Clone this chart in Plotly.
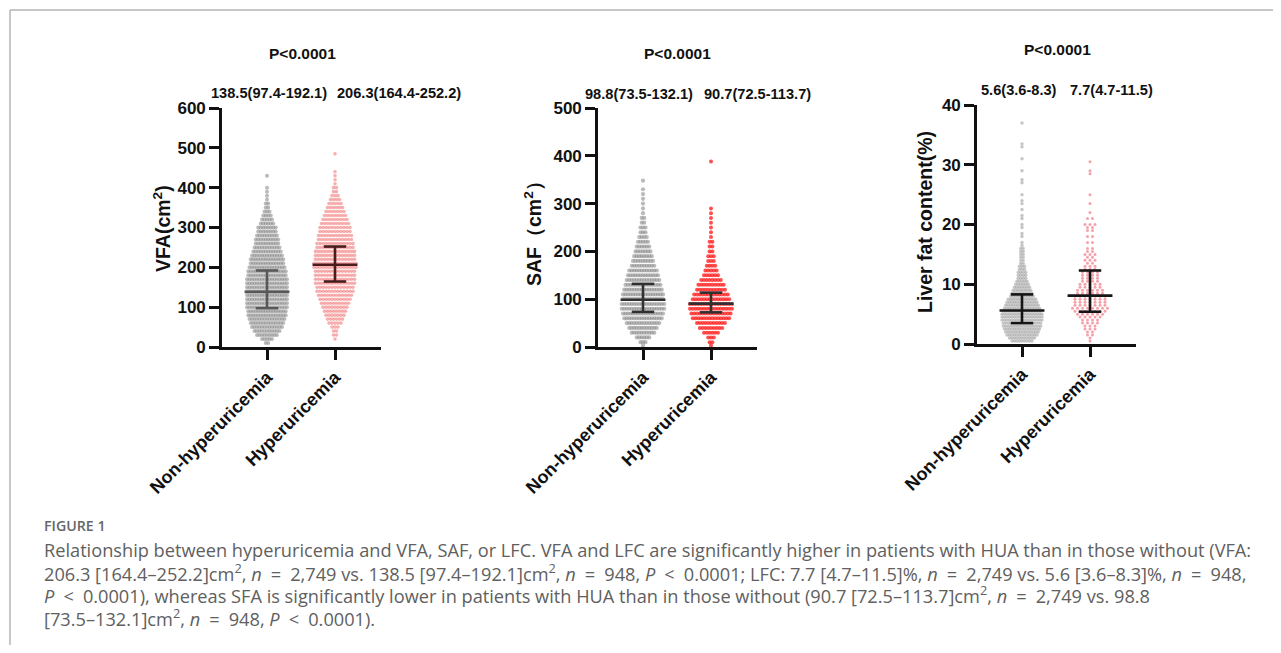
import plotly.graph_objects as go

# ---------------- data ----------------
categories = ["Non-hyperuricemia", "Hyperuricemia"]

# VFA (cm2): swarm rows (value level, number of dots in that row)
vfa_non_levels = [10, 20, 30, 40, 50, 60, 70, 80, 90, 100, 110, 120, 130, 140, 150, 160, 170, 180, 190, 200,
                  210, 220, 230, 240, 250, 260, 270, 280, 290, 300, 310, 320, 330, 340, 350, 360, 370, 380, 390, 400, 430]
vfa_non_counts = [2, 5, 9, 11, 13, 14, 15, 16, 16, 17, 17, 17, 17, 17, 17, 17, 17, 16, 16, 15,
                  14, 14, 13, 12, 11, 10, 10, 9, 8, 8, 6, 5, 4, 3, 2, 2, 1, 1, 1, 1, 1]
vfa_hua_levels = [20, 30, 40, 50, 60, 70, 80, 90, 100, 110, 120, 130, 140, 150, 160, 170, 180, 190, 200, 210,
                  220, 230, 240, 250, 260, 270, 280, 290, 300, 310, 320, 330, 340, 350, 360, 370, 380, 390, 400,
                  410, 420, 430, 440, 485]
vfa_hua_counts = [1, 2, 2, 3, 5, 6, 7, 8, 9, 10, 11, 12, 13, 13, 14, 14, 14, 14, 15, 15,
                  14, 14, 14, 13, 13, 12, 12, 11, 11, 10, 9, 8, 7, 6, 5, 4, 3, 2, 2,
                  1, 1, 1, 1, 1]
vfa_median = [138.5, 206.3]
vfa_q1 = [97.4, 164.4]
vfa_q3 = [192.1, 252.2]
vfa_labels = ["138.5(97.4-192.1)", "206.3(164.4-252.2)"]

# SAF (cm2)
saf_non_levels = [3, 10, 20, 30, 40, 50, 60, 70, 80, 90, 100, 110, 120, 130, 140, 150, 160, 170, 180, 190,
                  200, 210, 220, 230, 240, 250, 260, 270, 280, 290, 300, 310, 320, 330, 348]
saf_non_counts = [1, 3, 6, 10, 12, 14, 16, 17, 18, 18, 17, 17, 16, 15, 14, 13, 12, 10, 9, 8,
                  7, 6, 5, 4, 3, 3, 2, 2, 1, 1, 1, 1, 1, 1, 1]
saf_hua_levels = [3, 10, 20, 30, 40, 50, 60, 70, 80, 90, 100, 110, 120, 130, 140, 150, 160, 170, 180, 190,
                  200, 210, 220, 230, 240, 250, 260, 270, 280, 290, 388]
saf_hua_counts = [1, 2, 3, 6, 9, 11, 14, 15, 16, 16, 14, 13, 11, 10, 8, 6, 5, 4, 3, 3,
                  2, 2, 2, 1, 1, 1, 1, 1, 1, 1, 1]
saf_median = [98.8, 90.7]
saf_q1 = [73.5, 72.5]
saf_q3 = [132.1, 113.7]
saf_labels = ["98.8(73.5-132.1)", "90.7(72.5-113.7)"]

# Liver fat content (%)
lfc_non_levels = [0.5, 1.0, 1.5, 2.0, 2.5, 3.0, 3.5, 4.0, 4.5, 5.0, 5.5, 6.0, 6.5, 7.0, 7.5, 8.0, 8.5, 9.0,
                  9.5, 10.0, 10.5, 11.0, 11.5, 12.0, 12.5, 13.0, 13.5, 14.0, 14.5, 15.0, 15.5, 16.0, 16.5,
                  17.0, 18.0, 18.5, 19.5, 20.0, 21.0, 21.5, 22.5, 23.5, 24.0,
                  25.0, 27.0, 27.5, 29.0, 31.0, 33.0, 33.5, 37.0]
lfc_non_counts = [9, 11, 13, 14, 15, 16, 16, 17, 17, 17, 16, 15, 14, 13, 12, 10, 9, 8,
                  7, 6, 5, 4, 4, 4, 3, 3, 2, 2, 2, 2, 2, 2, 1,
                  1, 1, 1, 1, 1, 1, 1, 1, 1, 1,
                  1, 1, 1, 1, 1, 1, 1, 1]
lfc_hua_levels = [0.5, 1.0, 1.5, 2.0, 2.5, 3.0, 3.5, 4.0, 4.5, 5.0, 5.5, 6.0, 6.5, 7.0, 7.5, 8.0, 8.5, 9.0,
                  9.5, 10.0, 10.5, 11.0, 11.5, 12.0, 12.5, 13.0, 13.5, 14.0, 14.5, 15.0, 15.5, 16.0, 17.0,
                  18.0, 19.0, 19.5, 20.0, 21.0, 22.0, 23.5, 25.0, 28.5, 29.0, 30.5]
lfc_hua_counts = [1, 1, 2, 2, 3, 3, 4, 4, 5, 6, 7, 8, 7, 7, 7, 7, 6, 6,
                  5, 5, 4, 4, 4, 4, 3, 3, 2, 3, 2, 3, 2, 2, 2,
                  2, 2, 2, 3, 2, 1, 1, 1, 1, 1, 1]
lfc_median = [5.6, 8.1]
lfc_q1 = [3.5, 5.4]
lfc_q3 = [8.3, 12.3]
lfc_labels = ["5.6(3.6-8.3)", "7.7(4.7-11.5)"]

p_label = "P&lt;0.0001"
y_titles = ["VFA(cm<sup>2</sup>)", "SAF（cm<sup>2</sup>）", "Liver fat content(%)"]

EQ = "\u2002=\u2002"
LT = "\u2002&lt;\u2002"
caption_head = "FIGURE 1"
caption_lines = [
    "Relationship between hyperuricemia and VFA, SAF, or LFC. VFA and LFC are significantly higher in patients with HUA than in those without (VFA:",
    "206.3 [164.4–252.2]cm<sup>2</sup>, <i>n</i>" + EQ + "2,749 vs. 138.5 [97.4–192.1]cm<sup>2</sup>, <i>n</i>" + EQ
    + "948, <i>P</i>" + LT + "0.0001; LFC: 7.7 [4.7–11.5]%, <i>n</i>" + EQ + "2,749 vs. 5.6 [3.6–8.3]%, <i>n</i>" + EQ + "948,",
    "<i>P</i>" + LT + "0.0001), whereas SFA is significantly lower in patients with HUA than in those without (90.7 [72.5–113.7]cm<sup>2</sup>, <i>n</i>"
    + EQ + "2,749 vs. 98.8",
    "[73.5–132.1]cm<sup>2</sup>, <i>n</i>" + EQ + "948, <i>P</i>" + LT + "0.0001).",
]

# ---------------- layout helpers ----------------
OFF = 8.0                 # page body margin
W, H = 1265, 637          # figure size so that the page fits the window
PX_PER_CAT = 68.0


def fx(px):
    return (px - OFF) / W


def fy(py):
    return 1 - (py - OFF) / H


panels = [
    dict(x0=222, x1=381, ytop=108, ybot=347, yrange=[0, 600], dtick=100,
         groups=[(vfa_non_levels, vfa_non_counts, "rgba(130,130,130,0.55)", 2.5, 4.0),
                 (vfa_hua_levels, vfa_hua_counts, "rgba(240,95,95,0.5)", 3.0, 3.6)],
         med=vfa_median, q1=vfa_q1, q3=vfa_q3, bar_colors=["#585858", "#4a1c1c"],
         labels=vfa_labels, label_x=[269, 398.5], label_y=93, p_xy=(302, 53),
         title_xy=(162, 229)),
    dict(x0=598, x1=757, ytop=108, ybot=347, yrange=[0, 500], dtick=100,
         groups=[(saf_non_levels, saf_non_counts, "rgba(130,130,130,0.55)", 2.5, 4.2),
                 (saf_hua_levels, saf_hua_counts, "rgba(255,20,20,0.75)", 2.8, 4.0)],
         med=saf_median, q1=saf_q1, q3=saf_q3, bar_colors=["#303030", "#303030"],
         labels=saf_labels, label_x=[639, 757.5], label_y=94, p_xy=(677, 53),
         title_xy=(533, 229)),
    dict(x0=977, x1=1136, ytop=105, ybot=344, yrange=[0, 40], dtick=10,
         groups=[(lfc_non_levels, lfc_non_counts, "rgba(150,150,150,0.55)", 2.5, 3.4),
                 (lfc_hua_levels, lfc_hua_counts, "rgba(240,110,125,0.65)", 5.0, 3.0)],
         med=lfc_median, q1=lfc_q1, q3=lfc_q3, bar_colors=["#151515", "#151515"],
         labels=lfc_labels, label_x=[1019, 1111.5], label_y=90, p_xy=(1057, 50),
         title_xy=(925, 222)),
]

fig = go.Figure()
annotations = []
layout_axes = {}
BOLD = "Liberation Sans"

for i, p in enumerate(panels):
    n = "" if i == 0 else str(i + 1)
    xref, yref = "x" + n, "y" + n
    left = -(45.0 / PX_PER_CAT)
    right = 1 + (p["x1"] - p["x0"] - 45.0 - PX_PER_CAT) / PX_PER_CAT

    # swarm dots
    for gi, (levels, counts, color, spacing_px, msize) in enumerate(p["groups"]):
        xs, ys = [], []
        s = spacing_px / PX_PER_CAT
        for lv, c in zip(levels, counts):
            for k in range(c):
                xs.append(gi + (k - (c - 1) / 2.0) * s)
                ys.append(lv)
        fig.add_trace(go.Scatter(x=xs, y=ys, mode="markers", xaxis=xref, yaxis=yref,
                                 marker=dict(size=msize, color=color, line=dict(width=0)),
                                 hoverinfo="skip", showlegend=False))

    # median + interquartile range bars
    for gi in range(2):
        m, a, b = p["med"][gi], p["q1"][gi], p["q3"][gi]
        hw, cw = 0.33, 0.165
        xs = [gi - hw, gi + hw, None, gi, gi, None, gi - cw, gi + cw, None, gi - cw, gi + cw]
        ys = [m, m, None, a, b, None, a, a, None, b, b]
        fig.add_trace(go.Scatter(x=xs, y=ys, mode="lines", xaxis=xref, yaxis=yref,
                                 line=dict(color=p["bar_colors"][gi], width=2.6),
                                 hoverinfo="skip", showlegend=False))

    layout_axes["xaxis" + n] = dict(
        domain=[fx(p["x0"]), fx(p["x1"])], range=[left, right], anchor=yref,
        showline=True, linecolor="#111111", linewidth=2.6, mirror=False,
        ticks="outside", ticklen=10, tickwidth=2.6, tickcolor="#111111",
        tickvals=[0, 1], ticktext=categories, tickangle=-45,
        tickfont=dict(family=BOLD, size=18, color="#111111", weight="bold"),
        showgrid=False, zeroline=False, fixedrange=True, automargin=False)
    layout_axes["yaxis" + n] = dict(
        domain=[fy(p["ybot"]), fy(p["ytop"])], range=p["yrange"], anchor=xref,
        showline=True, linecolor="#111111", linewidth=2.6,
        ticks="outside", ticklen=10, tickwidth=2.6, tickcolor="#111111",
        dtick=p["dtick"], tick0=0,
        tickfont=dict(family=BOLD, size=17, color="#111111", weight="bold"),
        showgrid=False, zeroline=False, fixedrange=True, automargin=False)

    # texts
    annotations.append(dict(text=p_label, x=fx(p["p_xy"][0]), y=fy(p["p_xy"][1]), xref="paper", yref="paper",
                            showarrow=False, xanchor="center", yanchor="middle",
                            font=dict(family=BOLD, size=15.5, color="#111111", weight="bold")))
    for lab, lx in zip(p["labels"], p["label_x"]):
        annotations.append(dict(text=lab, x=fx(lx), y=fy(p["label_y"]), xref="paper", yref="paper",
                                showarrow=False, xanchor="center", yanchor="middle",
                                font=dict(family=BOLD, size=14.6, color="#111111", weight="bold")))
    annotations.append(dict(text=y_titles[i], x=fx(p["title_xy"][0]), y=fy(p["title_xy"][1]),
                            xref="paper", yref="paper", showarrow=False, textangle=-90,
                            xanchor="center", yanchor="middle",
                            font=dict(family=BOLD, size=19.5, color="#111111", weight="bold")))

# caption
annotations.append(dict(text=caption_head, x=fx(42), y=fy(525.5), xref="paper", yref="paper", showarrow=False,
                        xanchor="left", yanchor="middle",
                        font=dict(family="Open Sans", size=14.2, color="#666666", weight=600)))
for j, line in enumerate(caption_lines):
    annotations.append(dict(text=line, x=fx(42), y=fy(550 + 22.4 * j), xref="paper", yref="paper",
                            showarrow=False, xanchor="left", yanchor="middle",
                            font=dict(family="Open Sans", size=18.2, color="#606060")))

shapes = [
    dict(type="line", xref="paper", yref="paper", x0=fx(10), x1=1.0, y0=fy(10), y1=fy(10),
         line=dict(color="#b4b4b4", width=1.5)),
    dict(type="line", xref="paper", yref="paper", x0=fx(10), x1=fx(10), y0=fy(10), y1=0.0,
         line=dict(color="#b4b4b4", width=1.5)),
]

fig.update_layout(
    width=W, height=H, autosize=False,
    margin=dict(l=0, r=0, t=0, b=0, autoexpand=False),
    paper_bgcolor="white", plot_bgcolor="white",
    showlegend=False,
    annotations=annotations, shapes=shapes,
    **layout_axes,
)

fig.write_html("out.html")
